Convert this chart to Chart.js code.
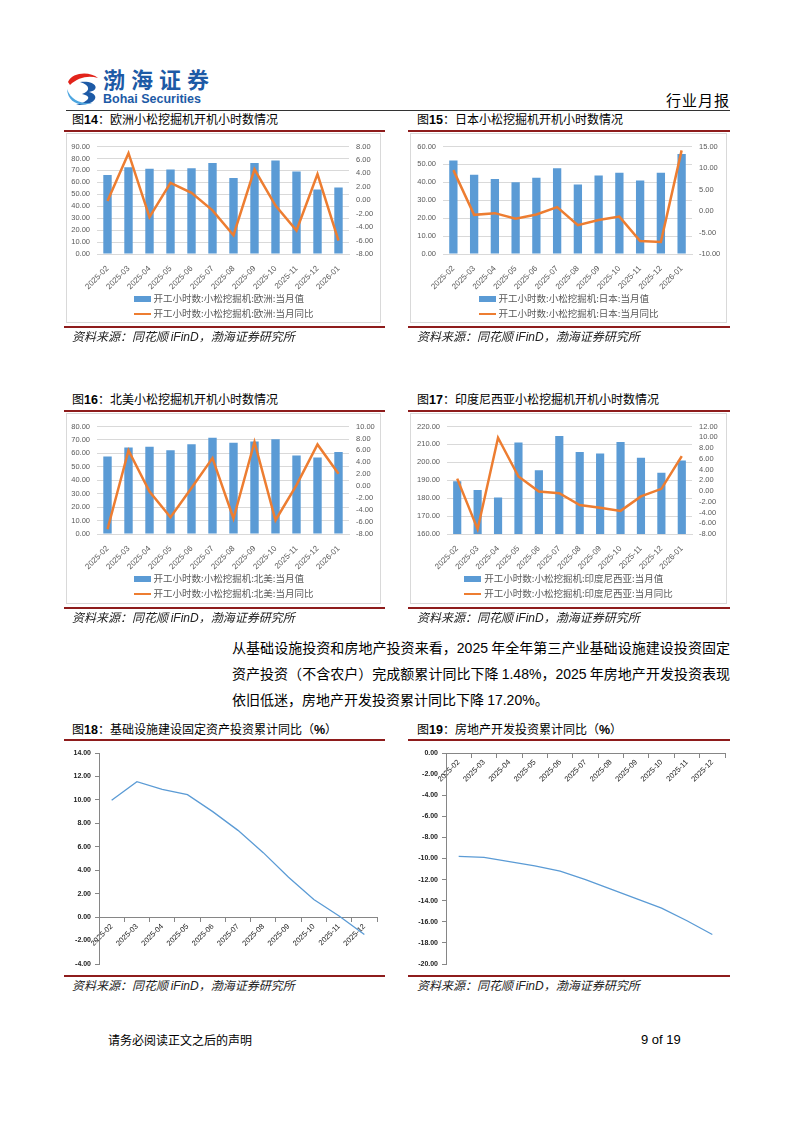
<!DOCTYPE html>
<html>
<head>
<meta charset="utf-8">
<script src="https://cdn.jsdelivr.net/npm/chart.js@4.4.1/dist/chart.umd.min.js"></script>
<style>
  body { margin: 0; background: #fff; }
  #page { position: relative; width: 794px; height: 1123px; overflow: hidden; font-family: 'Noto Sans CJK SC', sans-serif; color: #000; }
  .abs { position: absolute; }
  .title { font-size: 12px; line-height: 16px; white-space: nowrap; }
  .title b { font-family: 'Liberation Sans', Arial, sans-serif; font-weight: bold; font-size: 12.5px; }
  .redline { height: 2px; background: #8e1c1c; }
  .box { border: 1px solid #d9d9d9; box-sizing: border-box; }
  .source { font-size: 12px; line-height: 16px; font-style: italic; color: #222; white-space: nowrap; }
  .source span { font-family: 'Liberation Sans', Arial, sans-serif; }
  .legend { text-align: center; font-size: 9.5px; line-height: 15px; color: #595959; }
  .legend .inner { display: inline-block; text-align: left; }
  .legend .row { white-space: nowrap; }
  .legend .sw { display: inline-block; width: 17px; vertical-align: middle; margin-right: 3px; }
  .legend .barsw { height: 6px; background: #5b9bd5; }
  .legend .linesw { height: 2px; background: #ed7d31; }
  .para { font-size: 14px; line-height: 25px; width: 498px; white-space: nowrap; }
  .para .j { text-align: justify; text-align-last: justify; white-space: normal; }
  .para span.n { font-family: 'Liberation Sans', Arial, sans-serif; }
  canvas { position: absolute; }
</style>
</head>
<body>
<div id="page">
  <!-- header -->
  <svg class="abs" style="left:65px;top:70px" width="38" height="38" viewBox="0 0 38 38">
    <path d="M3 12 C 7 2, 25 1, 33 8 C 24 5, 13 7, 5 15 Z" fill="#e2231a"/>
    <path d="M15 12 C 31 10, 36 20, 24 22 C 34 24, 34 35, 11 35 C 25 31, 27 26, 17 24 C 26 21, 25 15, 15 12 Z" fill="#1d5aa6"/>
    <path d="M2 19 C 6 30, 15 34, 27 33 C 15 37, 3 33, 2 19 Z" fill="#4ea6e0"/>
  </svg>
  <div class="abs" style="left:103px;top:65px;font-size:22px;line-height:26px;font-weight:bold;color:#1d5aa6;letter-spacing:6px;">渤海证券</div>
  <div class="abs" style="left:103px;top:92px;font-family:'Liberation Sans',Arial,sans-serif;font-size:12.5px;line-height:14px;font-weight:bold;color:#1d5aa6;">Bohai Securities</div>
  <div class="abs" style="left:666px;top:91px;font-size:15px;line-height:18px;letter-spacing:1px;">行业月报</div>
  <div class="abs" style="left:66px;top:110px;width:664px;height:1px;background:#333;"></div>

  <!-- row 1 -->
  <div class="abs title" style="left:72px;top:111px;">图<b>14</b>：欧洲小松挖掘机开机小时数情况</div>
  <div class="abs title" style="left:417px;top:111px;">图<b>15</b>：日本小松挖掘机开机小时数情况</div>
  <div class="abs redline" style="left:64px;top:130px;width:321px;"></div>
  <div class="abs redline" style="left:408px;top:130px;width:322px;"></div>
  <div class="abs box" style="left:66px;top:133px;width:315px;height:190px;"></div>
  <div class="abs box" style="left:410px;top:133px;width:317px;height:190px;"></div>
  <canvas id="c14" width="315" height="160" style="left:66px;top:135px;"></canvas>
  <canvas id="c15" width="317" height="160" style="left:410px;top:135px;"></canvas>
  <div class="abs legend" style="left:66px;top:291px;width:315px;"><div class="inner">
    <div class="row"><span class="sw barsw"></span>开工小时数:小松挖掘机:欧洲:当月值</div>
    <div class="row"><span class="sw linesw"></span>开工小时数:小松挖掘机:欧洲:当月同比</div></div></div>
  <div class="abs legend" style="left:410px;top:291px;width:317px;"><div class="inner">
    <div class="row"><span class="sw barsw"></span>开工小时数:小松挖掘机:日本:当月值</div>
    <div class="row"><span class="sw linesw"></span>开工小时数:小松挖掘机:日本:当月同比</div></div></div>
  <div class="abs redline" style="left:64px;top:326px;width:321px;"></div>
  <div class="abs redline" style="left:408px;top:326px;width:322px;"></div>
  <div class="abs source" style="left:72px;top:328px;">资料来源：同花顺 <span>iFinD</span>，渤海证券研究所</div>
  <div class="abs source" style="left:417px;top:328px;">资料来源：同花顺 <span>iFinD</span>，渤海证券研究所</div>

  <!-- row 2 -->
  <div class="abs title" style="left:72px;top:391px;">图<b>16</b>：北美小松挖掘机开机小时数情况</div>
  <div class="abs title" style="left:417px;top:391px;">图<b>17</b>：印度尼西亚小松挖掘机开机小时数情况</div>
  <div class="abs redline" style="left:64px;top:410px;width:321px;"></div>
  <div class="abs redline" style="left:408px;top:410px;width:322px;"></div>
  <div class="abs box" style="left:66px;top:413px;width:315px;height:191px;"></div>
  <div class="abs box" style="left:410px;top:413px;width:317px;height:191px;"></div>
  <canvas id="c16" width="315" height="160" style="left:66px;top:415px;"></canvas>
  <canvas id="c17" width="317" height="160" style="left:410px;top:415px;"></canvas>
  <div class="abs legend" style="left:66px;top:571px;width:315px;"><div class="inner">
    <div class="row"><span class="sw barsw"></span>开工小时数:小松挖掘机:北美:当月值</div>
    <div class="row"><span class="sw linesw"></span>开工小时数:小松挖掘机:北美:当月同比</div></div></div>
  <div class="abs legend" style="left:410px;top:571px;width:317px;"><div class="inner">
    <div class="row"><span class="sw barsw"></span>开工小时数:小松挖掘机:印度尼西亚:当月值</div>
    <div class="row"><span class="sw linesw"></span>开工小时数:小松挖掘机:印度尼西亚:当月同比</div></div></div>
  <div class="abs redline" style="left:64px;top:607px;width:321px;"></div>
  <div class="abs redline" style="left:408px;top:607px;width:322px;"></div>
  <div class="abs source" style="left:72px;top:609px;">资料来源：同花顺 <span>iFinD</span>，渤海证券研究所</div>
  <div class="abs source" style="left:417px;top:609px;">资料来源：同花顺 <span>iFinD</span>，渤海证券研究所</div>

  <!-- paragraph -->
  <div class="abs para" style="left:232px;top:635px;">
    <div class="j">从基础设施投资和房地产投资来看，<span class="n">2025</span> 年全年第三产业基础设施建设投资固定</div>
    <div class="j">资产投资（不含农户）完成额累计同比下降 <span class="n">1.48%</span>，<span class="n">2025</span> 年房地产开发投资表现</div>
    <div>依旧低迷，房地产开发投资累计同比下降 <span class="n">17.20%</span>。</div>
  </div>

  <!-- row 3 -->
  <div class="abs title" style="left:72px;top:721px;">图<b>18</b>：基础设施建设固定资产投资累计同比（<b>%</b>）</div>
  <div class="abs title" style="left:417px;top:721px;">图<b>19</b>：房地产开发投资累计同比（<b>%</b>）</div>
  <div class="abs redline" style="left:64px;top:739px;width:321px;"></div>
  <div class="abs redline" style="left:408px;top:739px;width:322px;"></div>
  <canvas id="c18" width="319" height="233" style="left:66px;top:742px;"></canvas>
  <canvas id="c19" width="320" height="233" style="left:410px;top:742px;"></canvas>
  <div class="abs redline" style="left:64px;top:975px;width:321px;"></div>
  <div class="abs redline" style="left:408px;top:975px;width:322px;"></div>
  <div class="abs source" style="left:72px;top:977px;">资料来源：同花顺 <span>iFinD</span>，渤海证券研究所</div>
  <div class="abs source" style="left:417px;top:977px;">资料来源：同花顺 <span>iFinD</span>，渤海证券研究所</div>

  <!-- footer -->
  <div class="abs" style="left:108px;top:1032px;font-size:12px;line-height:16px;">请务必阅读正文之后的声明</div>
  <div class="abs" style="left:641px;top:1031px;font-family:'Liberation Sans',Arial,sans-serif;font-size:13px;line-height:18px;">9 of 19</div>
</div>

<script>
// months on the x axis
const months = ['2025-02', '2025-03', '2025-04', '2025-05', '2025-06', '2025-07',
                '2025-08', '2025-09', '2025-10', '2025-11', '2025-12', '2026-01'];

// Komatsu working hours, monthly value and yoy
const euHours = [66.1, 72.7, 71.3, 70.7, 71.8, 76.2, 63.6, 76.2, 78.2, 69.1, 53.9, 55.6];
const euYoy = [-0.1, 7.0, -2.5, 2.6, 1.1, -1.5, -5.2, 4.6, -0.8, -4.5, 3.9, -6.0];

const jpHours = [52.2, 44.2, 41.8, 40.0, 42.5, 47.8, 38.8, 43.8, 45.3, 41.0, 45.3, 55.8];
const jpYoy = [9.5, -0.9, -0.5, -1.8, -0.8, 0.9, -3.3, -2.1, -1.3, -7.0, -7.2, 14.1];

const naHours = [57.6, 64.3, 65.0, 62.4, 66.8, 71.6, 68.0, 68.8, 70.6, 58.5, 57.0, 61.0];
const naYoy = [-7.2, 6.0, -0.9, -5.2, -0.3, 4.7, -5.4, 7.4, -5.7, 0.2, 7.0, 2.1];

const idHours = [189.4, 184.6, 180.4, 211.1, 195.6, 214.7, 205.7, 205.0, 211.4, 202.5, 194.2, 201.0];
const idYoy = [2.3, -7.1, 9.9, 2.7, -0.1, -0.4, -2.6, -3.1, -3.7, -1.0, 0.4, 6.5];

// cumulative yoy (%), 2025-02 .. 2025-12
const ytdMonths = months.slice(0, 11);
const infraYtd = [9.97, 11.55, 10.9, 10.45, 9.0, 7.4, 5.5, 3.4, 1.5, 0.1, -1.48];
const realtyYtd = [-9.8, -9.9, -10.3, -10.7, -11.2, -12.0, -12.9, -13.8, -14.7, -15.9, -17.2];

Chart.defaults.font.family = "'Liberation Sans', Arial, sans-serif";
Chart.defaults.animation = false;

const fmt = v => Number(v).toFixed(2);

function comboChart(id, hours, yoy, left, right, leftW, rightW) {
  const ctx = document.getElementById(id).getContext('2d');
  return new Chart(ctx, {
    type: 'bar',
    data: {
      labels: months,
      datasets: [{
        type: 'line',
        data: yoy,
        yAxisID: 'y1',
        borderColor: '#ed7d31',
        borderWidth: 2.5,
        pointRadius: 0,
        tension: 0,
        order: 0
      }, {
        data: hours,
        yAxisID: 'y',
        backgroundColor: '#5b9bd5',
        categoryPercentage: 1,
        barPercentage: 0.4,
        order: 1
      }]
    },
    options: {
      responsive: false,
      layout: { padding: { top: 10, left: 0, right: 0, bottom: 0 } },
      plugins: { legend: { display: false }, tooltip: { enabled: false } },
      scales: {
        x: {
          grid: { display: false },
          border: { color: '#d9d9d9' },
          ticks: { autoSkip: false, minRotation: 45, maxRotation: 45, font: { size: 8 }, color: '#595959', padding: 2 },
          afterFit: s => { s.height = 41; }
        },
        y: {
          position: 'left',
          min: left[0], max: left[1],
          ticks: { autoSkip: false, stepSize: left[2], callback: fmt, font: { size: 7.5 }, color: '#595959', padding: 7 },
          grid: { color: '#d9d9d9', drawTicks: false },
          border: { display: false },
          afterFit: s => { s.width = leftW; }
        },
        y1: {
          position: 'right',
          min: right[0], max: right[1],
          ticks: { autoSkip: false, stepSize: right[2], callback: fmt, font: { size: 7.5 }, color: '#595959', padding: 7 },
          grid: { display: false, drawTicks: false },
          border: { display: false },
          afterFit: s => { s.width = rightW; }
        }
      }
    }
  });
}

comboChart('c14', euHours, euYoy, [0, 90, 10], [-8, 8, 2], 31, 32);
comboChart('c15', jpHours, jpYoy, [0, 60, 10], [-10, 15, 5], 33, 35);
comboChart('c16', naHours, naYoy, [0, 80, 10], [-8, 10, 2], 31, 32);
comboChart('c17', idHours, idYoy, [160, 220, 10], [-8, 12, 2], 37, 35);

function ytdChart(id, values, yMin, yMax, leftW, padRight) {
  const ctx = document.getElementById(id).getContext('2d');
  return new Chart(ctx, {
    type: 'line',
    data: {
      labels: ytdMonths,
      datasets: [{
        data: values,
        borderColor: '#5b9bd5',
        borderWidth: 1.3,
        pointRadius: 0,
        tension: 0
      }]
    },
    options: {
      responsive: false,
      layout: { padding: { top: 11, left: 0, right: padRight, bottom: 11 } },
      plugins: { legend: { display: false }, tooltip: { enabled: false } },
      scales: {
        x: {
          position: { y: 0 },
          offset: true,
          grid: { offset: true, drawOnChartArea: false, tickLength: 4, color: '#868686' },
          border: { color: '#868686' },
          ticks: { autoSkip: false, minRotation: 45, maxRotation: 45, font: { size: 7.5 }, color: '#222', padding: 1 }
        },
        y: {
          min: yMin, max: yMax,
          ticks: { autoSkip: false, stepSize: 2, callback: fmt, font: { size: 7, weight: 'bold' }, color: '#222', padding: 4 },
          grid: { drawOnChartArea: false, tickLength: 4, color: '#868686' },
          border: { color: '#868686' },
          afterFit: s => { s.width = leftW; }
        }
      }
    }
  });
}

ytdChart('c18', infraYtd, -4, 14, 33, 8);
ytdChart('c19', realtyYtd, -20, 0, 36, 5);
</script>
</body>
</html>
